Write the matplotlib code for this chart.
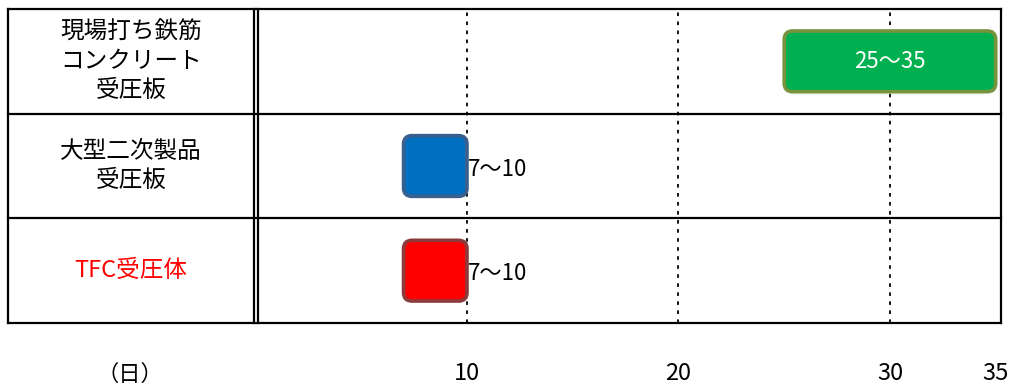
import matplotlib.pyplot as plt
from matplotlib.patches import FancyBboxPatch

plt.rcParams['font.family'] = ['Noto Sans CJK JP', 'DejaVu Sans']

# data
rows = ['現場打ち鉄筋\nコンクリート\n受圧板', '大型二次製品\n受圧板', 'TFC受圧体']
row_colors = ['black', 'black', 'red']
starts = [25, 7, 7]
ends = [35, 10, 10]
labels = ['25～35', '7～10', '7～10']
faces = ['#00B050', '#0070C0', '#FF0000']
edges = ['#77933C', '#3A5F8C', '#8C3A3A']
ticks = [10, 20, 30, 35]

W, H = 1014, 390
x0, x1 = 255.5, 1001
aw = x1 - x0
fig = plt.figure(figsize=(W / 100, H / 100), dpi=100)
ax = fig.add_axes([x0 / W, 67 / H, aw / W, 314 / H])
ax.set_xlim(0, 35.25)
ax.set_ylim(3, 0)
for s in ax.spines.values():
    s.set_visible(False)
ax.set_yticks([])
ax.set_xticks(ticks)
ax.set_xticklabels([str(t) for t in ticks], fontsize=17)
ax.tick_params(axis='x', length=0, pad=28)

# grid lines
for t in [10, 20, 30]:
    ax.axvline(t, color='black', lw=1.3, ls=(0, (2, 3)), zorder=1)

# table lines
left = (8 - x0) / aw
kw = dict(transform=ax.transAxes, clip_on=False, color='black', lw=1.6)
for yy in [0, 1 / 3, 2 / 3, 1]:
    ax.plot([left, 1], [yy, yy], **kw)
for xx in [left, (253.5 - x0) / aw, (257.5 - x0) / aw, 1]:
    ax.plot([xx, xx], [0, 1], **kw)

# bars
px_x = aw / 35.25
px_y = 314 / 3
for i in range(3):
    h = 0.58
    p = FancyBboxPatch((starts[i], i + 0.5 - h / 2), ends[i] - starts[i], h,
                       boxstyle='round,pad=0,rounding_size=0.4',
                       mutation_aspect=px_x / px_y,
                       facecolor=faces[i], edgecolor=edges[i], lw=2.6,
                       zorder=3, clip_on=False)
    ax.add_patch(p)

ax.text(30, 0.5, labels[0], color='white', ha='center', va='center', fontsize=16, zorder=4)
ax.text(10.05, 1.53, labels[1], color='black', ha='left', va='center', fontsize=16, zorder=4)
ax.text(10.05, 2.53, labels[2], color='black', ha='left', va='center', fontsize=16, zorder=4)

# row labels
cx = (131 - x0) / aw
for i in range(3):
    ax.text(cx, 1 - (i + 0.5) / 3, rows[i], transform=ax.transAxes, color=row_colors[i],
            ha='center', va='center', fontsize=17, linespacing=1.35)

ax.text((130 - x0) / aw, -51 / 314, '（日）',
        transform=ax.transAxes, ha='center', va='center', fontsize=16)

fig.savefig('out.png', dpi=100)
